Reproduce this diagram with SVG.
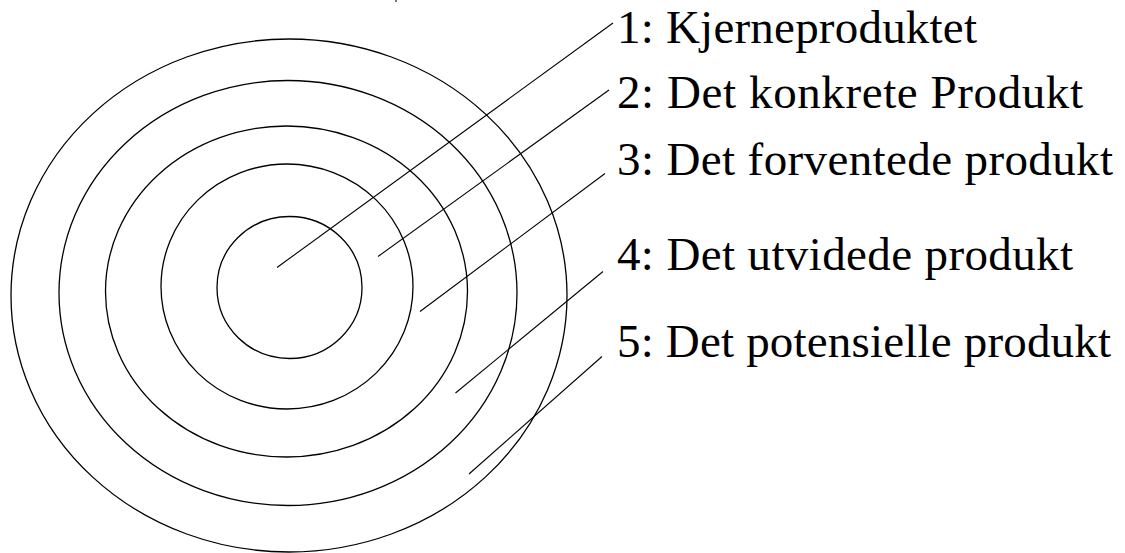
<svg xmlns="http://www.w3.org/2000/svg" width="1125" height="553" viewBox="0 0 1125 553">
<style>
.ring{fill:none;stroke:#000;stroke-width:1.3}
.lead{fill:none;stroke:#000;stroke-width:1.1}
</style>
<rect width="1125" height="553" fill="#fff"/>
<g id="rings">
<ellipse id="ring5" class="ring" cx="289" cy="295.5" rx="278" ry="256.5"/>
<ellipse id="ring4" class="ring" cx="288" cy="293" rx="229" ry="212.5"/>
<ellipse id="ring3" class="ring" cx="286.5" cy="291.5" rx="181" ry="165.5"/>
<ellipse id="ring2" class="ring" cx="287" cy="286.5" rx="126" ry="122.5"/>
<ellipse id="ring1" class="ring" cx="289.5" cy="287.5" rx="72.5" ry="71"/>
</g>
<g id="connectors">
<line class="lead" x1="277" y1="267.5" x2="613" y2="23"/>
<line class="lead" x1="378" y1="256.5" x2="609" y2="90"/>
<line class="lead" x1="420" y1="311.5" x2="605" y2="173.5"/>
<line class="lead" x1="455.5" y1="393" x2="603" y2="271.5"/>
<line class="lead" x1="469" y1="474" x2="602" y2="356.5"/>
<line class="lead" x1="396" y1="0" x2="396" y2="2" stroke="#888"/>
</g>
<g font-family="Liberation Serif, Times New Roman, serif" font-size="47" fill="#000">
<g id="label1"><text x="617" y="43" textLength="360" lengthAdjust="spacing">1: Kjerneproduktet</text></g>
<g id="label2"><text x="617" y="108" textLength="466" lengthAdjust="spacing">2: Det konkrete Produkt</text></g>
<g id="label3"><text x="617" y="175" textLength="496" lengthAdjust="spacing">3: Det forventede produkt</text></g>
<g id="label4"><text x="617" y="270" textLength="456" lengthAdjust="spacing">4: Det utvidede produkt</text></g>
<g id="label5"><text x="617" y="357" textLength="494" lengthAdjust="spacing">5: Det potensielle produkt</text></g>
</g>
</svg>
